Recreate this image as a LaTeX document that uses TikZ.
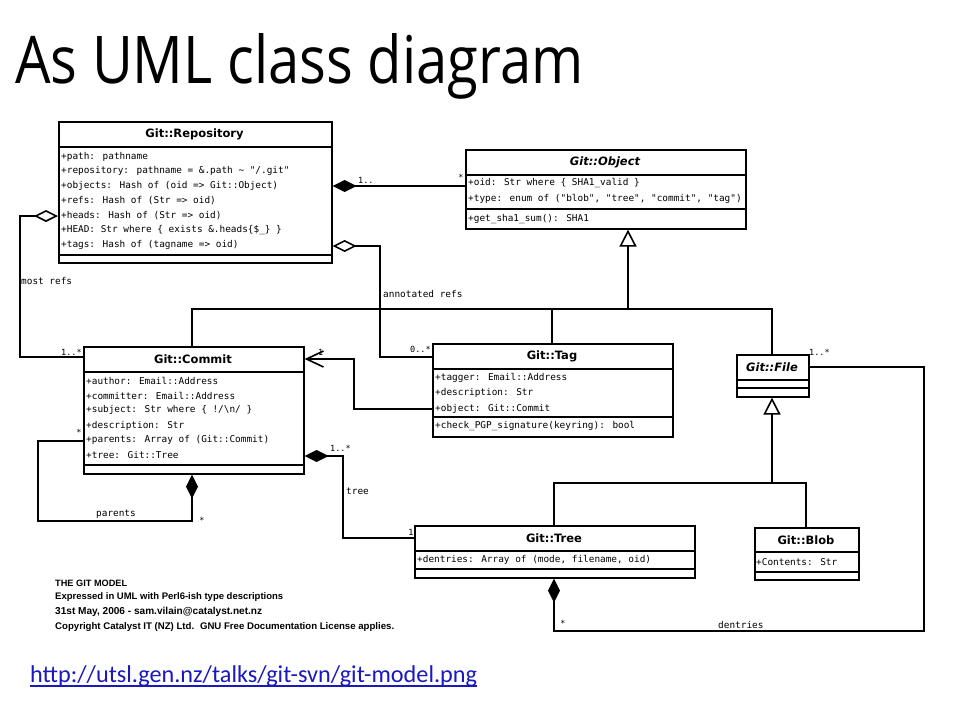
\documentclass[tikz,border=0pt]{standalone}
\usepackage{fontspec}
\usepackage{graphicx}
\usetikzlibrary{arrows.meta,calc}
\newfontfamily\monof{DejaVu Sans Mono}
\newfontfamily\sansf{DejaVu Sans}
\newfontfamily\calibf{Carlito}
\newfontfamily\titlef{Open Sans}
\newfontfamily\footf{Liberation Sans}
\definecolor{linkblue}{RGB}{25,25,190}
\begin{document}
\begin{tikzpicture}[x=1pt,y=-1pt,
  box/.style={draw, line width=1.6pt, inner sep=0pt, anchor=north west},
  ln/.style={line width=1.6pt},
  ctitle/.style={font=\sansf\bfseries\fontsize{11.5}{13}\selectfont, inner sep=0pt},
  atitle/.style={font=\sansf\bfseries\itshape\fontsize{11.5}{13}\selectfont, inner sep=0pt},
  attr/.style={font=\monof\fontsize{9.4}{11}\selectfont, inner sep=0pt, anchor=west},
  lbl/.style={font=\monof\fontsize{9.4}{11}\selectfont, inner sep=0pt, anchor=west},
  mult/.style={font=\monof\fontsize{8.5}{10}\selectfont, inner sep=0pt, anchor=west},
  foot/.style={font=\footf\bfseries\fontsize{9}{10}\selectfont, inner sep=0pt, anchor=west},
  comp/.style={ln, {Diamond[length=24pt,width=12pt]}-},
  aggr/.style={ln, {Diamond[open,length=24pt,width=12pt,fill=white]}-},
  gen/.style={ln, -{Triangle[open,length=17pt,width=17pt,fill=white]}},
  nav/.style={ln, -{Straight Barb[length=17pt,width=16pt]}}
]
\fill[white] (0,0) rectangle (960,720);
\useasboundingbox (0,0) rectangle (960,720);

% title
\node[anchor=base west, inner sep=0pt] (title) at (15,83) {\resizebox{568pt}{50pt}{\titlef As UML class diagram}};

% ---------- Git::Repository
\node[box, minimum width=273pt, minimum height=141pt] (repo) at (58,121) {};
\draw[ln] ($(repo.north west)+(0,26)$) -- ($(repo.north east)+(0,26)$);
\draw[ln] ($(repo.north west)+(0,134)$) -- ($(repo.north east)+(0,134)$);
\node[ctitle] (repoT) at (194.5,134) {Git::Repository};
\node[attr] (repoA1) at (61,156.5) {+path: pathname};
\node[attr] (repoA2) at (61,171.2) {+repository: pathname = \&.path \textasciitilde{} "/.git"};
\node[attr] (repoA3) at (61,186) {+objects: Hash of (oid => Git::Object)};
\node[attr] (repoA4) at (61,200.7) {+refs: Hash of (Str => oid)};
\node[attr] (repoA5) at (61,215.5) {+heads: Hash of (Str => oid)};
\node[attr] (repoA6) at (61,230.2) {+HEAD: Str where \{ exists \&.heads\{\$\_\} \}};
\node[attr] (repoA7) at (61,245) {+tags: Hash of (tagname => oid)};

% ---------- Git::Object
\node[box, minimum width=280pt, minimum height=79pt] (obj) at (465,149) {};
\draw[ln] ($(obj.north west)+(0,26)$) -- ($(obj.north east)+(0,26)$);
\draw[ln] ($(obj.north west)+(0,60)$) -- ($(obj.north east)+(0,60)$);
\node[atitle] (objT) at (605,162) {Git::Object};
\node[attr] (objA1) at (468,183.5) {+oid: Str where \{ SHA1\_valid \}};
\node[attr] (objA2) at (468,199) {+type: enum of ("blob", "tree", "commit", "tag")};
\node[attr] (objM1) at (468,219) {+get\_sha1\_sum(): SHA1};

% ---------- Git::Commit
\node[box, minimum width=220pt, minimum height=127pt] (commit) at (83,346) {};
\draw[ln] ($(commit.north west)+(0,26)$) -- ($(commit.north east)+(0,26)$);
\draw[ln] ($(commit.north west)+(0,119)$) -- ($(commit.north east)+(0,119)$);
\node[ctitle] (commitT) at (193,359) {Git::Commit};
\node[attr] (comA1) at (86,381) {+author: Email::Address};
\node[attr] (comA2) at (86,395.5) {+committer: Email::Address};
\node[attr] (comA3) at (86,410) {+subject: Str where \{ !/\textbackslash n/ \}};
\node[attr] (comA4) at (86,425.5) {+description: Str};
\node[attr] (comA5) at (86,440) {+parents: Array of (Git::Commit)};
\node[attr] (comA6) at (86,455) {+tree: Git::Tree};

% ---------- Git::Tag
\node[box, minimum width=240pt, minimum height=93pt] (tag) at (432,343) {};
\draw[ln] ($(tag.north west)+(0,26)$) -- ($(tag.north east)+(0,26)$);
\draw[ln] ($(tag.north west)+(0,74)$) -- ($(tag.north east)+(0,74)$);
\node[ctitle] (tagT) at (552,356) {Git::Tag};
\node[attr] (tagA1) at (435,378) {+tagger: Email::Address};
\node[attr] (tagA2) at (435,393) {+description: Str};
\node[attr] (tagA3) at (435,408.5) {+object: Git::Commit};
\node[attr] (tagM1) at (435,426.5) {+check\_PGP\_signature(keyring): bool};

% ---------- Git::File
\node[box, minimum width=72pt, minimum height=42pt] (file) at (736,354) {};
\draw[ln] ($(file.north west)+(0,26)$) -- ($(file.north east)+(0,26)$);
\draw[ln] ($(file.north west)+(0,34)$) -- ($(file.north east)+(0,34)$);
\node[atitle] (fileT) at (772,367) {Git::File};

% ---------- Git::Tree
\node[box, minimum width=280pt, minimum height=52pt] (tree) at (414,525) {};
\draw[ln] ($(tree.north west)+(0,26)$) -- ($(tree.north east)+(0,26)$);
\draw[ln] ($(tree.north west)+(0,44)$) -- ($(tree.north east)+(0,44)$);
\node[ctitle] (treeT) at (554,538) {Git::Tree};
\node[attr] (treeA1) at (417,560) {+dentries: Array of (mode, filename, oid)};

% ---------- Git::Blob
\node[box, minimum width=104pt, minimum height=52pt] (blob) at (754,527) {};
\draw[ln] ($(blob.north west)+(0,25)$) -- ($(blob.north east)+(0,25)$);
\draw[ln] ($(blob.north west)+(0,45)$) -- ($(blob.north east)+(0,45)$);
\node[ctitle] (blobT) at (806,540) {Git::Blob};
\node[attr] (blobA1) at (756,562) {+Contents: Str};

% ---------- connectors
% objects
\draw[comp] ($(repo.north east)+(0,65)$) -- ($(obj.north west)+(0,37)$);
\node[mult] (m1) at (358,180) {1..};
\node[mult, anchor=center] (m2) at (461,177) {*};
% most refs
\draw[aggr] ($(repo.north west)+(0,95)$) -- (20,216) -- (20,357) -- ($(commit.north west)+(0,11)$);
\node[lbl] (lmr) at (21,281) {most refs};
\node[mult] (m3) at (61,352) {1..*};
% annotated refs
\draw[aggr] ($(repo.north east)+(0,125)$) -- (380,246) -- (380,357) -- ($(tag.north west)+(0,14)$);
\node[lbl] (lar) at (383,294) {annotated refs};
\node[mult] (m4) at (410,349) {0..*};
% generalisation to Git::Object
\coordinate (gj) at (628,309);
\draw[ln] ($(commit.north west)+(109,0)$) -- (192,309) -- (772,309) -- ($(file.north west)+(36,0)$);
\draw[ln] ($(tag.north west)+(120,0)$) -- (552,309);
\draw[gen] (gj) -- ($(obj.south west)+(163,0)$);
% generalisation to Git::File
\coordinate (fj) at (772,483);
\draw[ln] ($(tree.north west)+(140,0)$) -- (554,483) -- (806,483) -- ($(blob.north west)+(52,0)$);
\draw[gen] (fj) -- ($(file.south west)+(36,0)$);
% tag object -> commit
\draw[nav] ($(tag.north west)+(0,66)$) -- (354,409) -- (354,359) -- ($(commit.north east)+(0,13)$);
\node[mult] (m5) at (318,352) {1};
% commit tree
\draw[comp] ($(commit.north east)+(0,110)$) -- (343,456) -- (343,538) -- ($(tree.north west)+(0,13)$);
\node[mult] (m6) at (330,448) {1..*};
\node[lbl] (ltree) at (346,491) {tree};
\node[mult, anchor=center] (m7) at (411,532) {1};
% parents
\draw[comp] ($(commit.south west)+(109,0)$) -- (192,521) -- (38,521) -- (38,441) -- ($(commit.north west)+(0,95)$);
\node[mult, anchor=center] (m8) at (79,432) {*};
\node[lbl] (lpar) at (96,514) {parents};
\node[mult, anchor=center] (m9) at (202,520) {*};
% dentries
\draw[comp] ($(tree.south west)+(140,0)$) -- (554,631) -- (924,631) -- (924,367) -- ($(file.north east)+(0,13)$);
\node[mult, anchor=center] (m10) at (563,623) {*};
\node[lbl] (lden) at (718,625) {dentries};
\node[mult] (m11) at (809,352) {1..*};

% footer
\node[foot] (f1) at (55,583) {\resizebox{72pt}{!}{THE GIT MODEL}};
\node[foot] (f2) at (55,597.5) {\resizebox{228pt}{!}{Expressed in UML with Perl6-ish type descriptions}};
\node[foot] (f3) at (55,612) {\resizebox{207pt}{!}{31st May, 2006 - sam.vilain@catalyst.net.nz}};
\node[foot] (f4) at (55,627) {\resizebox{339pt}{!}{Copyright Catalyst IT (NZ) Ltd.\hspace{0.6em}GNU Free Documentation License applies.}};

% url
\node[anchor=base west, inner sep=0pt, text=linkblue] (url) at (30,682) {\resizebox{447pt}{!}{\calibf\fontsize{20}{24}\selectfont http://utsl.gen.nz/talks/git-svn/git-model.png}};
\draw[linkblue, line width=1.2pt] ($(url.base west)+(0,4)$) -- ($(url.base east)+(0,4)$);
\end{tikzpicture}
\end{document}
